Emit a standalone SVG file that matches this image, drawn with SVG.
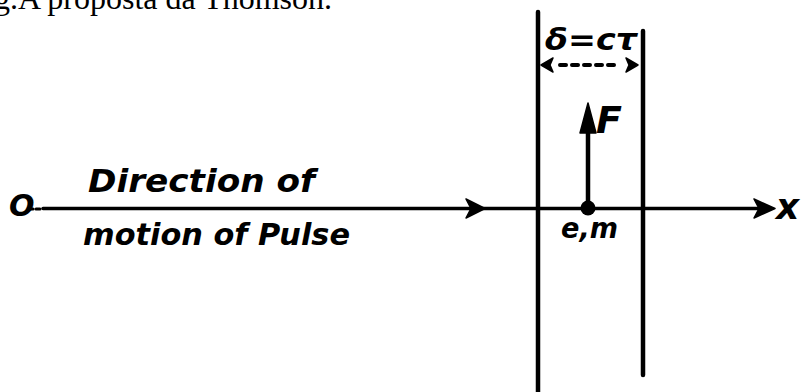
<svg xmlns="http://www.w3.org/2000/svg" width="804" height="392" viewBox="0 0 804 392">
<defs>
<style>
.cap{font-family:"Liberation Serif","Times New Roman",serif;font-size:32px;fill:#000}
.lbl{font-family:"DejaVu Sans","Liberation Sans",sans-serif;font-weight:bold;font-style:italic;fill:#000}
.ln{stroke:#000;fill:none;stroke-linecap:round}
.ah{fill:#000;stroke:#000;stroke-width:1.5;stroke-linejoin:round}
</style>
</defs>
<rect width="804" height="392" fill="#fff"/>
<g id="caption">
<text class="cap" x="-6" y="9">g.A proposta da Thomson.</text>
</g>
<g id="origin">
<text class="lbl" x="9" y="216" font-size="30">O</text>
<path class="ln" d="M29,209 L33,209 M36,209 L40,209" stroke-width="3"/>
</g>
<g id="label-direction">
<text class="lbl" x="88" y="192" font-size="32" textLength="227" lengthAdjust="spacingAndGlyphs">Direction of</text>
<text class="lbl" x="83" y="245" font-size="31" textLength="267" lengthAdjust="spacingAndGlyphs">motion of Pulse</text>
</g>
<g id="pulse-front">
<line class="ln" x1="538" y1="12" x2="538" y2="392" stroke-width="4.5"/>
</g>
<g id="pulse-back">
<line class="ln" x1="643" y1="31" x2="643" y2="375" stroke-width="4.5"/>
</g>
<g id="width-label">
<text class="lbl" x="545" y="50" font-size="30" textLength="92" lengthAdjust="spacingAndGlyphs">δ=cτ</text>
</g>
<g id="charge">
<circle cx="588" cy="208" r="7.5" fill="#000"/>
<text class="lbl" x="561" y="238" font-size="29" textLength="57" lengthAdjust="spacingAndGlyphs">e,m</text>
</g>
<g id="force-label">
<text class="lbl" x="596" y="133" font-size="38">F</text>
</g>
<g id="x-label">
<text class="lbl" x="776" y="219" font-size="36">x</text>
</g>
<g id="connectors">
<line class="ln" x1="43" y1="208.5" x2="770" y2="208.5" stroke-width="3.5"/>
<path class="ah" d="M466,199 L485,208.5 L466,218 L471,208.5 Z"/>
<path class="ah" d="M754,199 L775,208.5 L754,218 L759,208.5 Z"/>
<line class="ln" x1="588" y1="208" x2="588" y2="128" stroke-width="4.5"/>
<path class="ah" d="M588,103 L596,133 L580,133 Z"/>
<path class="ln" d="M560,65 L566,65 M572,65 L578,65 M584,65 L590,65 M596,65 L602,65 M608,65 L614,65" stroke-width="4"/>
<path class="ah" d="M541,65 L553,58 L550,65 L553,72 Z"/>
<path class="ah" d="M638,65 L626,58 L629,65 L626,72 Z"/>
</g>
</svg>
